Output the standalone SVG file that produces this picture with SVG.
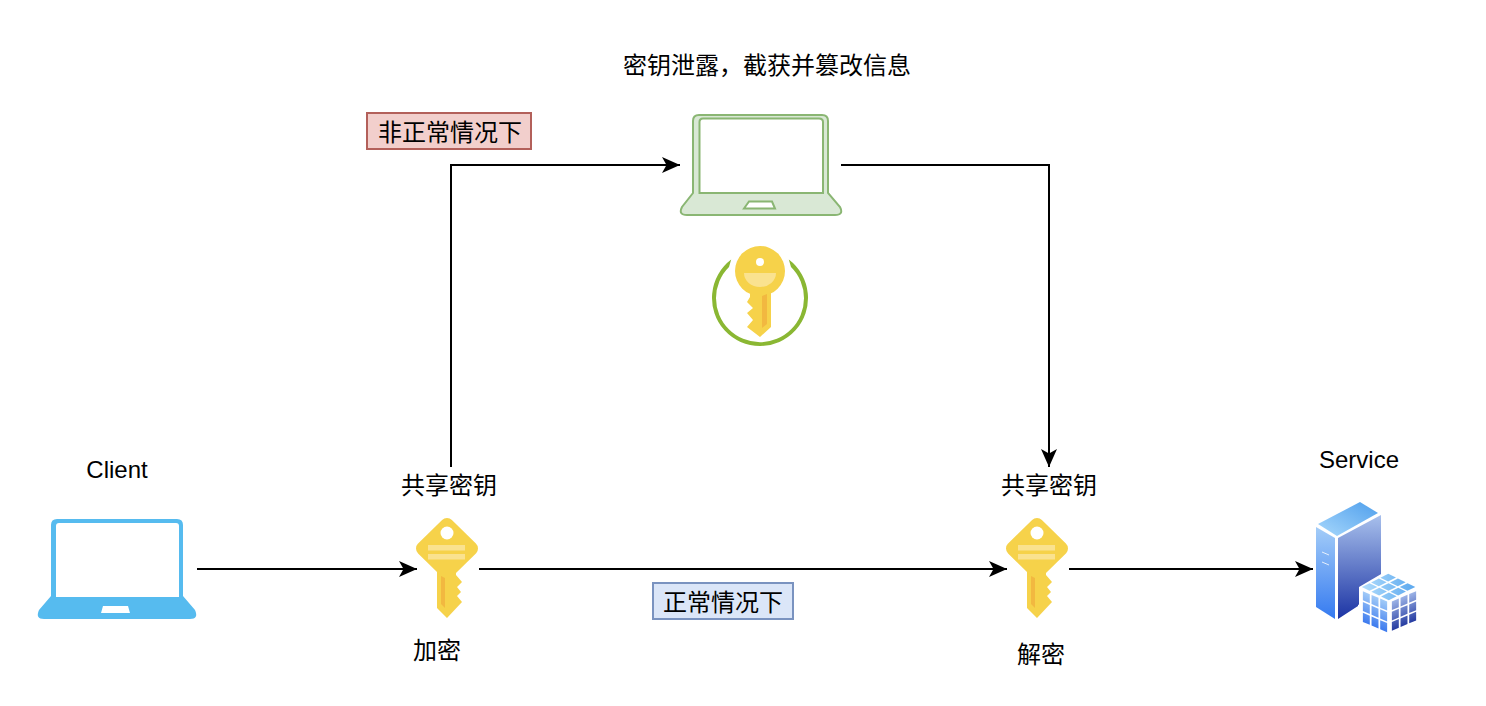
<svg xmlns="http://www.w3.org/2000/svg" width="1486" height="706" viewBox="0 0 1486 706">
<style>
text{font-family:"Liberation Sans","Noto Sans CJK SC",sans-serif;font-size:24px;fill:#000;text-anchor:middle}
.c{fill:none;stroke:#000;stroke-width:2;marker-end:url(#arrow)}
.k{fill:#f6d24a}
.kh{fill:#f6d24a;stroke:#f6d24a;stroke-width:14;stroke-linejoin:round}
.kb{fill:#fae28f}
.ks{fill:#f2b840}
</style>
<defs>
<marker id="arrow" markerUnits="userSpaceOnUse" markerWidth="20" markerHeight="20" viewBox="0 -10 20 20" refX="18" refY="0" orient="auto"><path d="M0 -8L18 0L0 8L4.5 0Z" fill="#000"/></marker>
<linearGradient id="gl" x1="0" y1="0" x2="0" y2="1"><stop offset="0" stop-color="#a4cdf8"/><stop offset="1" stop-color="#357af0"/></linearGradient>
<linearGradient id="gr" x1="0" y1="0" x2="0" y2="1"><stop offset="0" stop-color="#a8c0ec"/><stop offset="1" stop-color="#1c34a4"/></linearGradient>
<linearGradient id="gt" x1="0" y1="1" x2="1" y2="0"><stop offset="0" stop-color="#a8d8fc"/><stop offset="1" stop-color="#4f9fec"/></linearGradient>
<linearGradient id="cl" gradientUnits="userSpaceOnUse" x1="0" y1="0" x2="0" y2="3"><stop offset="0" stop-color="#a4cdf8"/><stop offset="1" stop-color="#3a78ee"/></linearGradient>
<linearGradient id="cr" gradientUnits="userSpaceOnUse" x1="0" y1="0" x2="0" y2="3"><stop offset="0" stop-color="#9fb6e8"/><stop offset="1" stop-color="#22389f"/></linearGradient>
<linearGradient id="ct" gradientUnits="userSpaceOnUse" x1="0" y1="3" x2="3" y2="0"><stop offset="0" stop-color="#b4dffd"/><stop offset="1" stop-color="#58a6ee"/></linearGradient>
<g id="cells">
<rect x=".1" y=".08" width=".8" height=".84"/><rect x="1.1" y=".08" width=".8" height=".84"/><rect x="2.1" y=".08" width=".8" height=".84"/>
<rect x=".1" y="1.08" width=".8" height=".84"/><rect x="1.1" y="1.08" width=".8" height=".84"/><rect x="2.1" y="1.08" width=".8" height=".84"/>
<rect x=".1" y="2.08" width=".8" height=".84"/><rect x="1.1" y="2.08" width=".8" height=".84"/><rect x="2.1" y="2.08" width=".8" height=".84"/>
</g>
<g id="key">
<path class="kh" d="M447 525L471 548.5L447 572L423 548.5Z"/>
<path class="k" d="M437 570L456 570L456 575L462 582L457 587L461 592L457 596L462 602L447 618L437 608Z"/>
<circle cx="447" cy="533" r="6.5" fill="#fff"/>
<rect class="kb" x="428" y="545" width="37" height="5.5"/>
<rect class="kb" x="428" y="554" width="37" height="5.5"/>
<path class="ks" d="M441 576L445 578L445 608L441 604Z"/>
</g>
</defs>

<g id="connectors">
<path class="c" d="M197 569H417"/>
<path class="c" d="M479 569H1007"/>
<path class="c" d="M1069 569H1313"/>
<path class="c" d="M451 467V165H680"/>
<path class="c" d="M841 165H1049V467"/>
</g>

<g id="attacker-label"><text x="767" y="74">密钥泄露，截获并篡改信息</text></g>

<g id="abnormal-label">
<rect x="367" y="113" width="164" height="36" fill="#f2cfcc" stroke="#b3605a" stroke-width="2"/>
<text x="450" y="141">非正常情况下</text>
</g>

<g id="attacker-laptop">
<path d="M693 121Q693 115 699 115H822Q828 115 828 121V193L840 207Q844 215 835 215H687Q678 215 682 207L693 193Z" fill="#d9e8d5" stroke="#8ab673" stroke-width="2"/>
<path d="M699.500 122Q699.500 118.500 703 118.500H819Q823 118.500 823 122V193H699.500Z" fill="#fff" stroke="#8ab673" stroke-width="2"/>
<path d="M744 208.500L749 201.500H772L775 208.500Z" fill="#fff" stroke="#8ab673" stroke-width="2"/>
</g>

<g id="leaked-key">
<path d="M731.200 259.600A48 48 0 1 0 788.800 259.600L791 267A44 44 0 1 1 729 267Z" fill="#8ab733"/>
<circle class="k" cx="760" cy="271" r="25"/>
<path class="k" d="M750 293H771V327L760 337L747 327L753 320L747 313L753 308L747 302L750 297Z"/>
<circle cx="760" cy="262" r="4" fill="#fff"/>
<path class="kb" d="M744 273H776A16 14 0 0 1 744 273Z"/>
<path class="ks" d="M762 296L767 294V324L762 328Z"/>
</g>

<g id="client">
<path d="M51 525Q51 519 57 519H177Q183 519 183 525V596L195 610Q199 619 190 619H44Q35 619 39 610L51 596Z" fill="#56bbef"/>
<path d="M56 526Q56 523 59 523H176Q179 523 179 526V597H56Z" fill="#fff"/>
<path d="M103 606H128L130 613H101Z" fill="#fff"/>
</g>
<g id="client-label"><text x="117" y="478">Client</text></g>

<g id="shared-key-label-1"><text x="449" y="494">共享密钥</text></g>
<g id="encrypt-key"><use href="#key"/></g>
<g id="encrypt-label"><text x="437" y="659">加密</text></g>

<g id="normal-label">
<rect x="653" y="583" width="140" height="36" fill="#dbe6f8" stroke="#7a93c0" stroke-width="2"/>
<text x="723" y="611">正常情况下</text>
</g>

<g id="shared-key-label-2"><text x="1049" y="494">共享密钥</text></g>
<g id="decrypt-key"><use href="#key" x="590"/></g>
<g id="decrypt-label"><text x="1041" y="663">解密</text></g>

<g id="service-label"><text x="1359" y="468">Service</text></g>
<g id="service">
<path d="M1318 524L1360 502L1378 513L1337 536Z" fill="url(#gt)"/>
<path d="M1316 527L1335 538V619L1316 607Z" fill="url(#gl)"/>
<path d="M1338 538L1381 515V592L1358 605V606L1338 619Z" fill="url(#gr)"/>
<path d="M1322 552L1329 555M1322 562L1329 565" stroke="#fff" stroke-width="1" fill="none" opacity=".8"/>
<path d="M1388 570L1420 586V622L1390 636L1359 625V587Z" fill="#fff"/>
<use href="#cells" transform="matrix(8.67 3.67 0 10.8 1362 590)" fill="url(#cl)"/>
<use href="#cells" transform="matrix(8.67 -3.67 0 10.3 1391 601)" fill="url(#cr)"/>
<use href="#cells" transform="matrix(9.67 4.67 -9.33 4.67 1388 573)" fill="url(#ct)"/>
</g>
</svg>
